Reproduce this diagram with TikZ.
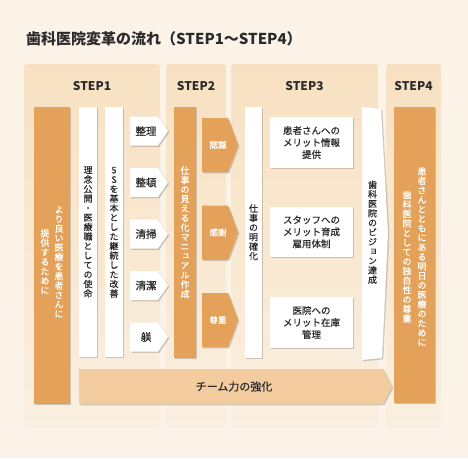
\documentclass[tikz,border=0pt]{standalone}
\usepackage{fontspec}
\setmainfont{Noto Sans CJK JP}
\newfontfamily\vjp[RawFeature=+vert,FakeBold=0.6]{Noto Sans CJK JP}
\newfontfamily\jpm[FakeBold=0.6]{Noto Sans CJK JP}
\usetikzlibrary{shadows}
\definecolor{bg}{HTML}{FBF3E8}
\definecolor{paneltop}{HTML}{F8E1C2}
\definecolor{panelbot}{HTML}{FAEFE0}
\definecolor{orng}{HTML}{E4A15A}
\definecolor{lorng}{HTML}{F2CC9F}
\definecolor{ink}{HTML}{2B2B2B}
\makeatletter
\newcommand\tate[1]{\vbox{\offinterlineskip\@tfor\tch:=#1\do{\hbox to 1em{\vrule height .88em depth .12em width 0pt\hss\tch\hss}\kern.5pt}}}
\makeatother
\tikzset{
  panel/.style={top color=paneltop,bottom color=panelbot,rounded corners=3pt},
  shd/.style={drop shadow={shadow xshift=1.3pt,shadow yshift=-1.3pt,opacity=.18,fill=black}},
  wbar/.style={fill=white,shd},
  obar/.style={fill=orng,shd},
  vtb/.style={font=\vjp\fontsize{9}{9}\selectfont,inner sep=0pt,text=ink},
  vtw/.style={font=\vjp\fontsize{9}{9}\selectfont,inner sep=0pt,text=white},
  steplab/.style={font=\bfseries\fontsize{12}{12}\selectfont,text=ink},
  arrlab/.style={font=\jpm\fontsize{10.5}{10.5}\selectfont,text=ink,inner sep=0pt},
  olab/.style={font=\jpm\fontsize{8.5}{8.5}\selectfont,text=white,inner sep=0pt},
  boxlab/.style={font=\jpm\fontsize{9.5}{12}\selectfont,text=ink,align=center,inner sep=0pt},
}
\begin{document}
\begin{tikzpicture}[x=1pt,y=-1pt]
\useasboundingbox (0,0) rectangle (468,458);
\fill[bg] (0,0) rectangle (468,458);
\node[anchor=west,font=\bfseries\fontsize{15}{15}\selectfont,text=ink,inner sep=0pt] (title) at (26,39) {歯科医院変革の流れ（STEP1〜STEP4）};
% panels
\path[panel] (24,64) rectangle (160,428);
\path[panel] (166,64) rectangle (226,428);
\path[panel] (231,64) rectangle (378,428);
\path[panel] (386,64) rectangle (441,428);
\node[steplab] (s1) at (92,86) {STEP1};
\node[steplab] (s2) at (196,86) {STEP2};
\node[steplab] (s3) at (304.5,86) {STEP3};
\node[steplab] (s4) at (413.5,86) {STEP4};
% STEP1
\path[obar] (34,107) rectangle (70,404);
\node[vtw] (a1) at (59,262) {\tate{より良い医療を患者さんに}};
\node[vtw] (a2) at (45,262) {\tate{提供するために}};
\path[wbar] (79,107) rectangle (97,357);
\node[vtb] (b1) at (88,232) {\tate{理念公開・医療職としての使命}};
\path[wbar] (105,107) rectangle (123,357);
\node[vtb] (c1) at (114,232) {\tate{5Sを基本とした継続した改善}};
\foreach \cy/\lab/\nm in {131/整理/k1,182.5/整頓/k2,234/清掃/k3,285.5/清潔/k4,337/躾/k5}{
  \path[wbar] (130,\cy-14.5) -- (158,\cy-14.5) -- (168,\cy) -- (158,\cy+14.5) -- (130,\cy+14.5) -- cycle;
  \node[arrlab] (\nm) at (146,\cy) {\lab};
}
% team bar
\path[fill=lorng,shd] (79,369) -- (383,369) -- (392,386.5) -- (383,404) -- (79,404) -- cycle;
\node[font=\jpm\fontsize{11}{11}\selectfont,text=ink] (team) at (234,386.5) {チーム力の強化};
% STEP2
\path[obar] (174,107) rectangle (196,358);
\node[vtw] (d1) at (185,232.5) {\tate{仕事の見える化マニュアル作成}};
% STEP3
\foreach \cy/\lab/\nm in {145/認識/o1,232.5/感謝/o2,320/尊重/o3}{
  \path[obar] (202,\cy-27) -- (228,\cy-27) -- (238,\cy) -- (228,\cy+27) -- (202,\cy+27) -- cycle;
  \node[olab] (\nm) at (218,\cy) {\lab};
}
\path[wbar] (245,107) rectangle (262,358);
\node[vtb] (e1) at (253.5,232.5) {\tate{仕事の明確化}};
\path[wbar] (270,117) rectangle (353,168);
\node[boxlab] (w1) at (311.5,142.5) {患者さんへの\\メリット情報\\提供};
\path[wbar] (270,207) rectangle (353,257);
\node[boxlab] (w2) at (311.5,232) {スタッフへの\\メリット育成\\雇用体制};
\path[wbar] (270,297) rectangle (353,348);
\node[boxlab] (w3) at (311.5,322.5) {医院への\\メリット在庫\\管理};
\path[wbar] (362,107) -- (381,109) -- (388,233) -- (382,358) -- (362,360) -- cycle;
\node[vtb] (v1) at (372.5,232.5) {\tate{歯科医院のビジョン達成}};
% STEP4
\path[obar] (394,107) rectangle (435,403);
\node[vtw] (f1) at (422,257) {\tate{患者さんとともにある明日の医療のために}};
\node[vtw] (f2) at (407,257) {\tate{歯科医院としての独自性の尊重}};
\end{tikzpicture}
\end{document}
